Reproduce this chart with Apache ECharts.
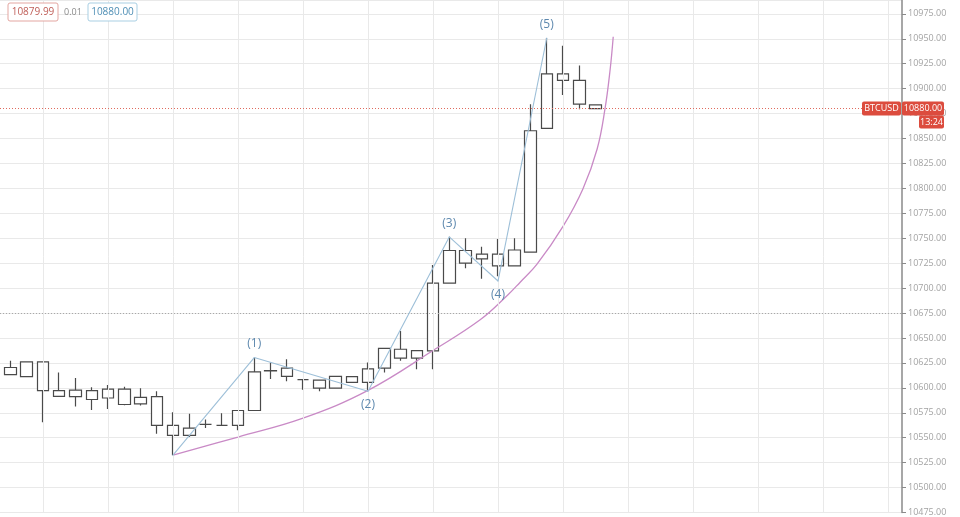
<!DOCTYPE html>
<html><head><meta charset="utf-8">
<script src="https://cdn.jsdelivr.net/npm/echarts/dist/echarts.min.js"></script>
<style>html,body{margin:0;padding:0;background:#fff}#c{width:960px;height:517px}</style>
</head><body><div id="c"></div><script>
// ---- data (one candle per bar, left to right) ----
const opens  = [10613.2,10611.2,10626.1,10597.2,10591.2,10597.2,10589.8,10598.8,10583.9,10591.2,10562.4,10552.4,10563.4,10562.4,10562.4,10577.3,10617.1,10619.7,10608.2,10607.8,10599.8,10611.2,10605.5,10619.7,10638.7,10629.7,10637.1,10705.1,10737.7,10729.3,10734.0,10722.3,10736.0,10860.2,10914.9,10908.3,10883.7];
const closes = [10620.4,10626.1,10597.2,10591.5,10597.8,10588.3,10598.8,10583.3,10590.5,10562.4,10552.4,10559.7,10563.4,10562.4,10577.3,10616.1,10617.2,10611.5,10608.2,10599.8,10611.5,10605.5,10619.1,10639.6,10629.7,10637.4,10705.1,10737.7,10725.0,10734.0,10722.3,10738.2,10857.8,10914.9,10908.3,10884.4,10880.0];
const lows   = [10612.8,10611.2,10565.6,10591.5,10581.3,10577.9,10578.9,10582.6,10582.3,10554.0,10532.5,10550.7,10559.7,10562.4,10557.4,10577.3,10608.8,10606.5,10598.2,10596.5,10599.8,10604.8,10596.5,10615.4,10627.1,10618.7,10618.7,10705.1,10720.0,10709.4,10711.8,10722.3,10736.0,10860.2,10893.6,10879.4,10879.4];
const highs  = [10627.1,10626.1,10626.1,10615.4,10609.8,10600.5,10602.8,10601.2,10599.5,10596.5,10575.6,10573.9,10568.3,10574.6,10577.3,10630.4,10625.4,10628.7,10608.2,10607.8,10611.5,10611.2,10625.4,10639.6,10657.0,10637.4,10723.3,10751.6,10749.9,10741.6,10749.2,10749.9,10884.4,10950.8,10943.1,10923.2,10884.0];

// Elliott wave pivots (bar index, price)
const waveIdx    = [10, 15, 22, 27, 30, 33];
const waveVals   = [10532.5, 10630.4, 10596.5, 10751.3, 10707.1, 10950.8];
const waveLabels = ['', '(1)', '(2)', '(3)', '(4)', '(5)'];
const wavePos    = ['top', 'top', 'bottom', 'top', 'bottom', 'top'];

// curved support line (bar index, price)
const curveIdx  = [10, 14, 18, 22, 26, 28.9, 30.6, 31.35, 32.4, 34, 35.23, 36.1, 36.58, 36.9, 37.09];
const curveVals = [10532.5, 10550.7, 10569.6, 10597.5, 10637.4, 10668.2, 10693.1, 10705.7, 10724.0, 10761.9, 10799.7, 10839.5, 10879.4, 10919.2, 10952.1];

// time grid: vertical lines every 4 bars (bar indices)
const timeGridIdx = [2, 6, 10, 14, 18, 22, 26, 30, 34, 38, 42, 46, 50, 54];

// price-axis settings / overlays
const xMin = -0.646, xMax = 54.86;          // visible bar range
const yMin = 10475, yMax = 10988.9, yStep = 25;
const currentPrice = 10880.00;
const dottedLevel = 10675;
const symbolName = 'BTCUSD';
const timeLeft = '13:24';
const bidText = '10879.99', spreadText = '0.01', askText = '10880.00';

const candleData = opens.map((o, i) => [i, o, closes[i], lows[i], highs[i]]);
const waveData = waveIdx.map((x, i) => ({
  value: [x, waveVals[i]],
  label: { show: !!waveLabels[i], formatter: waveLabels[i], position: wavePos[i] }
}));
const curveData = curveIdx.map((x, i) => [x, curveVals[i]]);

const chart = echarts.init(document.getElementById('c'), null, { renderer: 'canvas' });
const gridColor = '#e9e9e9';
chart.setOption({
  animation: false,
  backgroundColor: '#ffffff',
  grid: { left: 0, right: 58, top: 0, bottom: 1, containLabel: false },
  xAxis: {
    type: 'value', min: xMin, max: xMax,
    axisLine: { show: false, onZero: false }, axisTick: { show: false }, axisLabel: { show: false },
    splitLine: { show: false }
  },
  yAxis: {
    type: 'value', position: 'right', min: yMin, max: yMax, interval: yStep,
    axisLine: { show: true, onZero: false, lineStyle: { color: '#8a8a8a', width: 1.5 } },
    axisTick: { show: true, length: 4, lineStyle: { color: '#8a8a8a' } },
    axisLabel: { color: '#a3a3a3', fontSize: 9, fontFamily: 'Open Sans, sans-serif', margin: 6,
                 showMaxLabel: false, formatter: v => v.toFixed(2) },
    splitLine: { show: true, lineStyle: { color: gridColor, width: 1 } }
  },
  series: [
    {
      type: 'scatter', data: [], silent: true, z: 1,
      markLine: {
        silent: true, symbol: 'none', label: { show: false },
        lineStyle: { color: gridColor, type: 'solid', width: 1 },
        data: timeGridIdx.map(x => ({ xAxis: x }))
      }
    },
    {
      type: 'candlestick', data: candleData, barWidth: 12,
      itemStyle: { color: '#ffffff', color0: '#ffffff', borderColor: '#4a4a4a', borderColor0: '#4a4a4a', borderWidth: 1.2 },
      markLine: {
        silent: true, symbol: 'none', label: { show: false },
        data: [
          { yAxis: currentPrice, lineStyle: { color: '#e06b5e', type: [1, 2], width: 1 } },
          { yAxis: dottedLevel, lineStyle: { color: '#a8a8a8', type: [1, 2], width: 1.2 } }
        ]
      },
      z: 3
    },
    {
      type: 'line', data: curveData, smooth: 0.4, symbol: 'none',
      lineStyle: { color: '#c98ac6', width: 1.3 }, z: 4
    },
    {
      type: 'line', data: waveData, symbol: 'circle', symbolSize: 1,
      itemStyle: { color: '#9dbfd8' },
      lineStyle: { color: '#9dbfd8', width: 1.1 },
      label: { color: '#5d88ae', fontSize: 12, fontFamily: 'Open Sans, sans-serif', distance: 7 },
      z: 5
    }
  ]
});

// price tag boxes tied to the current price level
const py = chart.convertToPixel({ yAxisIndex: 0 }, currentPrice);
const axisX = 902;
const red = '#dc4c3e';
function box(x, y, w, h, fill, stroke) {
  return { type: 'rect', shape: { x, y, width: w, height: h, r: 2 }, style: { fill, stroke, lineWidth: 1 }, z: 100 };
}
function txt(x, y, t, color, size) {
  return { type: 'text', x, y, style: { text: t, fill: color, font: size + 'px "Open Sans", sans-serif',
    textAlign: 'center', textVerticalAlign: 'middle', align: 'center', verticalAlign: 'middle' }, z: 101 };
}
chart.setOption({
  graphic: [
    box(862, py - 7, 39, 14, red, null),
    txt(881.5, py, symbolName, '#ffffff', 9),
    box(axisX, py - 7, 42, 14, red, null),
    txt(axisX + 21, py, currentPrice.toFixed(2), '#ffffff', 9),
    box(919, py + 7, 25, 13, red, null),
    txt(931.5, py + 13.5, timeLeft, '#ffffff', 9),
    box(8, 3, 50, 18, '#ffffff', '#e3a6a1'),
    txt(33, 12, bidText, '#c0605a', 10),
    txt(73, 12, spreadText, '#8a8a8a', 9),
    box(88, 3, 49, 18, '#ffffff', '#a9cfe3'),
    txt(112.5, 12, askText, '#4f8fb5', 10)
  ]
});
</script></body></html>
